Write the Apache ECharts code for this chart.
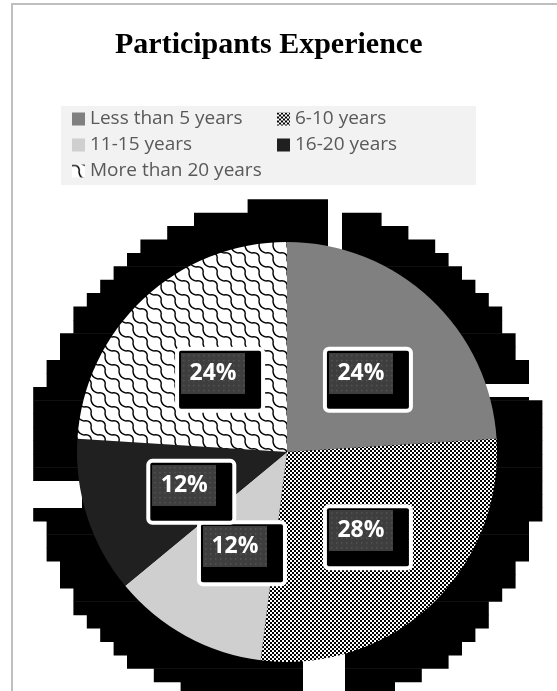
<!DOCTYPE html>
<html>
<head>
<meta charset="utf-8">
<script src="https://cdn.jsdelivr.net/npm/echarts@6/dist/echarts.min.js"></script>
<style>
html,body{margin:0;padding:0;background:#fff;}
#chart{width:557px;height:691px;}
</style>
</head>
<body>
<div id="chart"></div>
<script>
// ---- data ----
const categories = ['Less than 5 years', '6-10 years', '11-15 years', '16-20 years', 'More than 20 years'];
const values = [24, 28, 12, 12, 24];
const chartTitle = 'Participants Experience';

// ---- patterns / styles ----
function makeCanvas(w, h) { const c = document.createElement('canvas'); c.width = w; c.height = h; return c; }
function checkerPattern() {
  const c = makeCanvas(4, 4), g = c.getContext('2d');
  g.fillStyle = '#fff'; g.fillRect(0, 0, 4, 4);
  g.fillStyle = '#000'; g.fillRect(0, 0, 2, 2); g.fillRect(2, 2, 2, 2);
  return c;
}
function wavePattern() {
  const c = makeCanvas(14, 14), g = c.getContext('2d');
  g.fillStyle = '#fff'; g.fillRect(0, 0, 14, 14);
  g.strokeStyle = '#000'; g.lineWidth = 1.4;
  for (const [ox, oy] of [[0, 0], [-14, -14], [14, 14], [-14, 0], [0, -14]]) {
    g.beginPath();
    g.moveTo(ox + 0, oy + 1);
    g.bezierCurveTo(ox + 5, oy + 0, ox + 8, oy + 3, ox + 7, oy + 7);
    g.bezierCurveTo(ox + 7, oy + 11, ox + 10, oy + 14, ox + 14, oy + 15);
    g.stroke();
  }
  return c;
}
function labelBg() {
  const c = makeCanvas(64, 41), g = c.getContext('2d');
  g.fillStyle = '#3e3e3e'; g.fillRect(0, 0, 64, 41);
  g.fillStyle = '#565656';
  for (let y = 2; y < 41; y += 5) for (let x = 2; x < 64; x += 5) g.fillRect(x, y, 1.5, 1.5);
  return c;
}
const sliceColors = [
  '#808080',
  { image: checkerPattern(), repeat: 'repeat' },
  '#d0cfd0',
  '#202020',
  { image: wavePattern(), repeat: 'repeat' }
];
const bgImg = labelBg();

// ---- decorative stepped shadow disc ----
const shadowRects = [];
(function () {
  const step = 13.4, cx = 287, cy = 458, R = 256;
  const x0 = 60 - 13.4 * 4, y0 = 199.3;
  for (let j = 0; j < 40; j++) {
    const ya = y0 + j * step, yc = ya + step / 2;
    let minX = null, maxX = null;
    for (let i = 0; i < 45; i++) {
      const xa = x0 + i * step, xc = xa + step / 2;
      if ((xc - cx) * (xc - cx) + (yc - cy) * (yc - cy) <= R * R) {
        if (minX === null) minX = xa;
        maxX = xa + step;
      }
    }
    if (minX !== null) {
      shadowRects.push({ type: 'rect', shape: { x: minX, y: ya, width: maxX - minX, height: step + 0.5 }, style: { fill: '#000' }, silent: true });
    }
  }
  const gaps = [[328, 190, 14, 60], [480, 384, 80, 13], [20, 481, 62, 27], [303, 650, 42, 60]];
  gaps.forEach(g => shadowRects.push({ type: 'rect', shape: { x: g[0], y: g[1], width: g[2], height: g[3] }, style: { fill: '#fff' }, silent: true }));
})();

const chart = echarts.init(document.getElementById('chart'), null, { renderer: 'canvas' });
chart.setOption({
  animation: false,
  backgroundColor: '#fff',
  title: {
    text: chartTitle,
    left: 115, top: 30, padding: 0,
    textStyle: { fontFamily: 'Liberation Serif', fontWeight: 'bold', fontSize: 30, color: '#000' }
  },
  legend: {
    data: categories,
    left: 61, top: 106,
    width: 410,
    padding: [3, 0, 4, 11],
    itemGap: 6,
    itemWidth: 13, itemHeight: 13,
    icon: 'rect',
    backgroundColor: '#f2f2f2',
    textStyle: { fontFamily: 'Open Sans', fontSize: 19, color: '#595959', width: 181, lineHeight: 20 },
    selectedMode: false
  },
  graphic: [
    { type: 'group', z: -10, children: shadowRects },
    { type: 'rect', z: -5, shape: { x: 12, y: 4, width: 700, height: 800 }, style: { fill: 'none', stroke: '#bfbfbf', lineWidth: 2 }, silent: true }
  ],
  series: [{
    type: 'pie',
    center: [287, 452],
    radius: 210,
    startAngle: 90,
    clockwise: true,
    avoidLabelOverlap: false,
    labelLayout: { hideOverlap: false },
    silent: true,
    itemStyle: { borderWidth: 0 },
    label: {
      show: true,
      position: 'inside',
      formatter: '{a|{d}%}',
      backgroundColor: '#000',
      borderColor: '#fff',
      borderWidth: 4,
      borderRadius: 2,
      padding: [2, 16, 15, 2],
      offset: [7, 6.5],
      rich: {
        a: {
          width: 64, height: 41, lineHeight: 41,
          align: 'center', verticalAlign: 'middle',
          backgroundColor: { image: bgImg },
          color: '#fff', fontFamily: 'Open Sans', fontWeight: 'bold', fontSize: 23
        }
      }
    },
    labelLine: { show: false },
    emphasis: { disabled: true },
    data: categories.map((name, i) => ({ name: name, value: values[i], itemStyle: { color: sliceColors[i] } }))
  }]
});
</script>
</body>
</html>
